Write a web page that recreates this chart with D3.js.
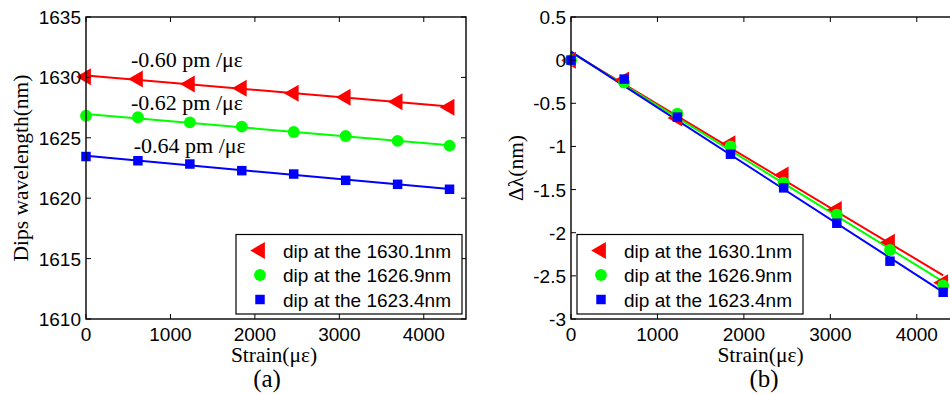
<!DOCTYPE html>
<html>
<head>
<meta charset="utf-8">
<script src="https://cdn.jsdelivr.net/npm/d3@7"></script>
<style>
  body { margin: 0; background: #fff; }
  text { fill: #000; }
  .tick-label { font-family: "Liberation Sans", Arial, sans-serif; font-size: 19px; }
  .title { font-family: "Liberation Serif", "Times New Roman", serif; font-size: 21.5px; }
  .legend-text { font-family: "Liberation Sans", Arial, sans-serif; font-size: 19px; }
</style>
</head>
<body>
<svg id="chart" width="950" height="394"></svg>
<script>
// strain steps (micro-strain)
const strain = [0, 615, 1230, 1845, 2460, 3075, 3690, 4305]

// panel (a): dip wavelengths (nm)
const dipRed = [1630.06, 1629.87, 1629.45, 1629.10, 1628.68, 1628.35, 1627.99, 1627.52]
const dipGreen = [1626.83, 1626.70, 1626.28, 1625.92, 1625.48, 1625.15, 1624.74, 1624.35]
const dipBlue = [1623.45, 1623.10, 1622.83, 1622.28, 1622.00, 1621.48, 1621.15, 1620.74]

// panel (b): wavelength shift (nm)
const shiftRed = [0, -0.23, -0.67, -0.97, -1.33, -1.73, -2.11, -2.58]
const shiftGreen = [0, -0.26, -0.62, -1.00, -1.42, -1.79, -2.20, -2.61]
const shiftBlue = [0, -0.22, -0.66, -1.09, -1.48, -1.89, -2.33, -2.69]

const legendLabels = ["dip at the 1630.1nm", "dip at the 1626.9nm", "dip at the 1623.4nm"]
const slopeLabels = ["-0.60 pm /\u03bc\u03b5", "-0.62 pm /\u03bc\u03b5", "-0.64 pm /\u03bc\u03b5"]

const xTicks = [0, 1000, 2000, 3000, 4000]
const yTicksA = [1610, 1615, 1620, 1625, 1630, 1635]
const yTicksB = [-3, -2.5, -2, -1.5, -1, -0.5, 0, 0.5]

const colors = ["#ff0000", "#00ff00", "#0000ff"]
const symbols = [d3.symbolTriangle, d3.symbolCircle, d3.symbolSquare]
const symbolSizes = [125, 110, 90]
const symbolRotate = [-90, 0, 0]

const svg = d3.select("#chart")
svg.append("rect").attr("width", 950).attr("height", 394).attr("fill", "#fff")

// least squares line through the points
function fitLine(xs, ys) {
    const mx = d3.mean(xs), my = d3.mean(ys)
    let num = 0, den = 0
    xs.forEach(function (x, i) {
        num += (x - mx) * (ys[i] - my)
        den += (x - mx) * (x - mx)
    })
    const k = num / den
    return function (x) { return my + k * (x - mx) }
}

function drawPanel(opt) {
    const x = d3.scaleLinear().domain([0, 4500]).range([opt.left, opt.right])
    const y = d3.scaleLinear().domain(opt.yDomain).range([opt.bottom, opt.top])
    const g = svg.append("g")
    const tickLen = 5

    // fitted lines
    opt.series.forEach(function (ys, i) {
        const f = fitLine(strain, ys)
        g.append("line")
            .attr("x1", x(strain[0])).attr("y1", y(f(strain[0])))
            .attr("x2", x(strain[strain.length - 1])).attr("y2", y(f(strain[strain.length - 1])))
            .attr("stroke", colors[i])
            .attr("stroke-width", 2)
    })

    // markers
    opt.series.forEach(function (ys, i) {
        g.selectAll(".m" + i)
            .data(ys)
            .enter().append("path")
            .attr("d", d3.symbol().type(symbols[i]).size(symbolSizes[i]))
            .attr("transform", function (d, j) {
                return "translate(" + x(strain[j]) + "," + y(d) + ") rotate(" + symbolRotate[i] + ")"
            })
            .attr("fill", colors[i])
    })

    // frame
    g.append("rect")
        .attr("x", opt.left).attr("y", opt.top)
        .attr("width", opt.right - opt.left).attr("height", opt.bottom - opt.top)
        .attr("fill", "none").attr("stroke", "#000").attr("stroke-width", 1.4)

    // inner ticks on all sides
    xTicks.forEach(function (t) {
        g.append("line").attr("x1", x(t)).attr("x2", x(t))
            .attr("y1", opt.bottom).attr("y2", opt.bottom - tickLen)
            .attr("stroke", "#000").attr("stroke-width", 1)
        g.append("line").attr("x1", x(t)).attr("x2", x(t))
            .attr("y1", opt.top).attr("y2", opt.top + tickLen)
            .attr("stroke", "#000").attr("stroke-width", 1)
        g.append("text").attr("class", "tick-label")
            .attr("x", x(t)).attr("y", opt.bottom + 22)
            .attr("text-anchor", "middle")
            .text(t)
    })
    opt.yTicks.forEach(function (t) {
        g.append("line").attr("x1", opt.left).attr("x2", opt.left + tickLen)
            .attr("y1", y(t)).attr("y2", y(t))
            .attr("stroke", "#000").attr("stroke-width", 1)
        g.append("line").attr("x1", opt.right).attr("x2", opt.right - tickLen)
            .attr("y1", y(t)).attr("y2", y(t))
            .attr("stroke", "#000").attr("stroke-width", 1)
        g.append("text").attr("class", "tick-label")
            .attr("x", opt.left - 5).attr("y", y(t) + 7)
            .attr("text-anchor", "end")
            .text(String(t))
    })

    // axis titles
    g.append("text").attr("class", "title")
        .attr("x", (opt.left + Math.min(opt.right, 950)) / 2 + opt.xTitleShift)
        .attr("y", opt.bottom + 43)
        .attr("text-anchor", "middle")
        .text("Strain(\u03bc\u03b5)")
    g.append("text").attr("class", "title")
        .attr("transform", "translate(" + opt.yTitleX + "," + ((opt.top + opt.bottom) / 2) + ") rotate(-90)")
        .attr("text-anchor", "middle")
        .text(opt.yTitle)
    g.append("text").attr("class", "title")
        .attr("x", opt.panelX).attr("y", 387)
        .attr("text-anchor", "middle")
        .style("font-size", "25px")
        .text(opt.panel)

    // legend
    const lg = g.append("g").attr("transform", "translate(" + opt.legendX + ",234.5)")
    lg.append("rect").attr("width", 226).attr("height", 79.5)
        .attr("fill", "#fff").attr("stroke", "#000").attr("stroke-width", 1.2)
    legendLabels.forEach(function (label, i) {
        lg.append("path")
            .attr("d", d3.symbol().type(symbols[i]).size(symbolSizes[i]))
            .attr("transform", "translate(24," + (16 + i * 24.5) + ") rotate(" + symbolRotate[i] + ")")
            .attr("fill", colors[i])
        lg.append("text").attr("class", "legend-text")
            .attr("x", 47).attr("y", 23 + i * 24.5)
            .text(label)
    })
    return {x: x, y: y, g: g}
}

const a = drawPanel({
    left: 86, right: 466, top: 17, bottom: 319,
    yDomain: [1610, 1635], yTicks: yTicksA,
    series: [dipRed, dipGreen, dipBlue],
    yTitle: "Dips wavelength(nm)", yTitleX: 28,
    xTitleShift: -2, panel: "(a)", panelX: 267,
    legendX: 236
})

// slope annotations for panel (a)
const slopeX = [533, 533, 565]
const slopeY = [1630.86, 1627.3, 1623.74]
slopeLabels.forEach(function (s, i) {
    a.g.append("text").attr("class", "title")
        .attr("x", a.x(slopeX[i])).attr("y", a.y(slopeY[i]))
        .style("font-size", "22px")
        .text(s)
})

drawPanel({
    left: 571, right: 960, top: 17, bottom: 319,
    yDomain: [-3, 0.5], yTicks: yTicksB,
    series: [shiftRed, shiftGreen, shiftBlue],
    yTitle: "\u0394\u03bb(nm)", yTitleX: 523,
    xTitleShift: 0, panel: "(b)", panelX: 764,
    legendX: 577
})
</script>
</body>
</html>
